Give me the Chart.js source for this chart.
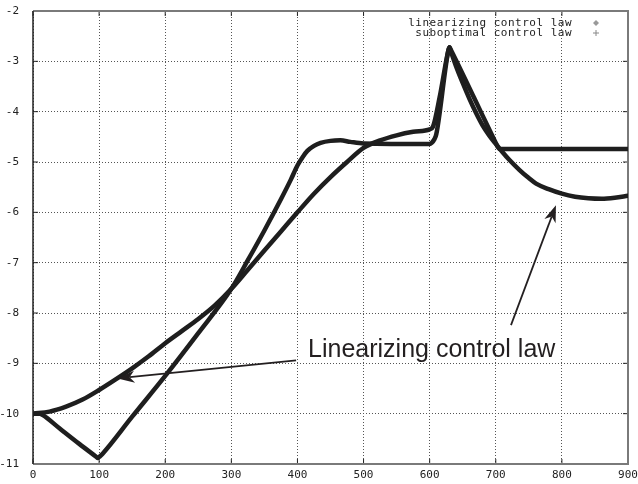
<!DOCTYPE html>
<html><head><meta charset="utf-8">
<script src="https://cdn.jsdelivr.net/npm/chart.js@4"></script>
<style>html,body{margin:0;padding:0;background:#fff}#wrap{width:638px;height:484px}</style>
</head><body><div id="wrap"><canvas id="c" width="638" height="484"></canvas></div>
<script>
// ---- data ----
const linX = [0,25,50,75,100,125,150,175,200,225,250,275,300,325,350,375,400,425,450,475,500,525,550,575,600,605,615,628,630,632,640,650,660,670,680,690,700,710,720,736,750,761,780,800,820,840,860,880,900];
const linY = [-10.0,-9.96,-9.86,-9.72,-9.53,-9.32,-9.1,-8.86,-8.6,-8.36,-8.12,-7.85,-7.52,-7.14,-6.76,-6.38,-6.0,-5.63,-5.3,-5.0,-4.72,-4.57,-4.47,-4.4,-4.35,-4.3,-3.72,-2.8,-2.72,-2.8,-3.1,-3.43,-3.74,-4.02,-4.27,-4.47,-4.64,-4.8,-4.95,-5.16,-5.32,-5.43,-5.54,-5.63,-5.69,-5.72,-5.73,-5.71,-5.67];
const subX = [0,10,15,40,70,96,98,101,105,150,200,250,300,325,350,375,390,400,408,415,425,435,450,465,480,500,600,603,607,610,628,630,632,667,700,703,706,720,800,900];
const subY = [-10.0,-10.0,-10.03,-10.29,-10.6,-10.86,-10.88,-10.85,-10.8,-10.06,-9.25,-8.4,-7.52,-6.95,-6.36,-5.74,-5.35,-5.07,-4.9,-4.78,-4.68,-4.62,-4.58,-4.57,-4.6,-4.63,-4.64,-4.62,-4.55,-4.45,-2.8,-2.72,-2.77,-3.72,-4.62,-4.7,-4.74,-4.74,-4.74,-4.74];
const xTicks = [0,100,200,300,400,500,600,700,800,900];
const yTicks = [-11,-10,-9,-8,-7,-6,-5,-4,-3,-2];
const legendLabels = ['linearizing control law', 'suboptimal control law'];
const noteText = 'Linearizing control law';
const noteAt = [416, -8.88];
const arrows = [[[398,-8.94],[128,-9.3]], [[723,-8.24],[791,-5.86]]];

const pts = (xs, ys) => xs.map((x, i) => ({x, y: ys[i]}));
const INK = '#1e1e1e';

function arrow(ctx, x1, y1, x2, y2) {
  const a = Math.atan2(y2 - y1, x2 - x1);
  const L = 17, W = 6, N = 12;
  const bx = x2 - L * Math.cos(a), by = y2 - L * Math.sin(a);
  ctx.beginPath(); ctx.moveTo(x1, y1);
  ctx.lineTo(x2 - N * Math.cos(a), y2 - N * Math.sin(a)); ctx.stroke();
  ctx.beginPath();
  ctx.moveTo(x2, y2);
  ctx.lineTo(bx + W * Math.sin(a), by - W * Math.cos(a));
  ctx.lineTo(x2 - N * Math.cos(a), y2 - N * Math.sin(a));
  ctx.lineTo(bx - W * Math.sin(a), by + W * Math.cos(a));
  ctx.closePath(); ctx.fill();
}

const framePlugin = {
  id: 'frame',
  beforeDatasetsDraw(chart) {
    const {ctx, chartArea: a, scales: {x, y}} = chart;
    ctx.save();
    ctx.strokeStyle = '#222'; ctx.lineWidth = 1;
    xTicks.forEach(v => { const p = x.getPixelForValue(v);
      ctx.beginPath(); ctx.moveTo(p, a.bottom); ctx.lineTo(p, a.bottom - 5);
      ctx.moveTo(p, a.top); ctx.lineTo(p, a.top + 5); ctx.stroke(); });
    yTicks.forEach(v => { const p = y.getPixelForValue(v);
      ctx.beginPath(); ctx.moveTo(a.left, p); ctx.lineTo(a.left + 5, p);
      ctx.moveTo(a.right, p); ctx.lineTo(a.right - 5, p); ctx.stroke(); });
    ctx.strokeStyle = '#7a7a7a'; ctx.lineWidth = 2;
    ctx.beginPath(); ctx.moveTo(a.left, a.top); ctx.lineTo(a.right, a.top);
    ctx.lineTo(a.right, a.bottom); ctx.lineTo(a.left, a.bottom); ctx.stroke();
    ctx.strokeStyle = '#222'; ctx.lineWidth = 1.5;
    ctx.beginPath(); ctx.moveTo(a.left, a.top); ctx.lineTo(a.left, a.bottom); ctx.stroke();
    ctx.restore();
  },
  afterDatasetsDraw(chart) {
    const {ctx, chartArea: a, scales: {x, y}} = chart;
    ctx.save();
    // legend
    ctx.font = '11px "DejaVu Sans Mono"';
    ctx.letterSpacing = '0.5px';
    ctx.fillStyle = '#222'; ctx.textAlign = 'right'; ctx.textBaseline = 'middle';
    legendLabels.forEach((t, i) => ctx.fillText(t, a.right - 56, a.top + 12 + i * 10));
    ctx.letterSpacing = '0px';
    const mx = a.right - 32;
    ctx.fillStyle = '#999'; ctx.strokeStyle = '#888'; ctx.lineWidth = 1;
    let my = a.top + 12;
    ctx.beginPath(); ctx.moveTo(mx, my - 3); ctx.lineTo(mx + 3, my); ctx.lineTo(mx, my + 3); ctx.lineTo(mx - 3, my); ctx.closePath(); ctx.fill();
    my = a.top + 22;
    ctx.beginPath(); ctx.moveTo(mx - 3, my); ctx.lineTo(mx + 3, my); ctx.moveTo(mx, my - 3); ctx.lineTo(mx, my + 3); ctx.stroke();
    // annotation
    ctx.font = '25px "Liberation Sans", Arial, sans-serif';
    ctx.fillStyle = '#231f20'; ctx.textAlign = 'left'; ctx.textBaseline = 'alphabetic';
    ctx.fillText(noteText, x.getPixelForValue(noteAt[0]), y.getPixelForValue(noteAt[1]));
    ctx.strokeStyle = '#231f20'; ctx.fillStyle = '#231f20'; ctx.lineWidth = 1.8;
    arrows.forEach(([s, e]) => arrow(ctx, x.getPixelForValue(s[0]), y.getPixelForValue(s[1]),
      x.getPixelForValue(e[0]), y.getPixelForValue(e[1])));
    ctx.restore();
  }
};

const tickFont = {family: '"DejaVu Sans Mono", monospace', size: 11};
new Chart(document.getElementById('c'), {
  type: 'line',
  data: {
    datasets: [
      {label: legendLabels[0], data: pts(linX, linY)},
      {label: legendLabels[1], data: pts(subX, subY)}
    ]
  },
  options: {
    responsive: false, animation: false, devicePixelRatio: 1,
    layout: {padding: {top: 11, right: 10, left: 0, bottom: 0}},
    elements: {
      point: {radius: 0},
      line: {borderColor: INK, borderWidth: 4.5, cubicInterpolationMode: 'monotone',
             borderJoinStyle: 'round', borderCapStyle: 'round', fill: false}
    },
    plugins: {legend: {display: false}, tooltip: {enabled: false}},
    scales: {
      x: {
        type: 'linear', min: 0, max: 900,
        afterBuildTicks: s => { s.ticks = xTicks.map(v => ({value: v})); },
        afterFit: s => { s.height = 20; s.paddingLeft = 0; s.paddingRight = 0; },
        ticks: {font: tickFont, color: '#222', padding: 5, maxRotation: 0, autoSkip: false},
        grid: {color: '#555', lineWidth: 1, drawTicks: false},
        border: {display: false, dash: [1, 2]}
      },
      y: {
        type: 'linear', min: -11, max: -2,
        afterBuildTicks: s => { s.ticks = yTicks.map(v => ({value: v})); },
        afterFit: s => { s.width = 33; s.paddingTop = 0; s.paddingBottom = 0; },
        ticks: {font: tickFont, color: '#222', padding: 14, autoSkip: false},
        grid: {color: '#555', lineWidth: 1, drawTicks: false},
        border: {display: false, dash: [1, 2]}
      }
    }
  },
  plugins: [framePlugin]
});
</script></body></html>
